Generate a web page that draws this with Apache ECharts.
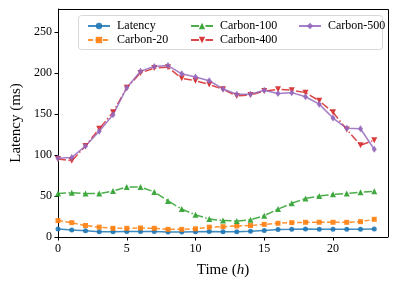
<!DOCTYPE html>
<html>
<head>
<meta charset="utf-8">
<script src="https://cdn.jsdelivr.net/npm/echarts@6/dist/echarts.min.js"></script>
<style>html,body{margin:0;padding:0;background:#fff}#c{width:399px;height:288px}</style>
</head>
<body>
<div id="c"></div>
<script>
const hours = [0,1,2,3,4,5,6,7,8,9,10,11,12,13,14,15,16,17,18,19,20,21,22,23];
const latency   = [9.8,8.5,7.7,6.5,6.5,6.8,6.8,6.8,6,6,6.5,6.8,6.5,6.5,7,8,9,9.3,9.8,9.3,9.3,9.3,9.3,9.8];
const carbon20  = [20,17.5,14,12,10.6,10.6,11,10.6,9.3,9.3,10,12,12.6,13.4,14,15.4,16.7,17.5,17.9,18,18,17.9,18.7,21.6];
const carbon100 = [53,54,53,53,56,61,61,55,44,34,27,22,20,19.5,21,26,34,41,47,50,52,53,54.5,55.7];
const carbon400 = [95,93,111,132,152,182,200,206,207,193.5,190.5,186,180,172,173,178,180,179,176,166,152,131,112,118];
const carbon500 = [96,97,111,129,149,182,202,208,209,199,195,190.5,180.5,174,174,179,175,176,171,162,145,132.5,132,107];
const xTicks = [0,5,10,15,20];
const yTicks = [0,50,100,150,200,250];

const FONT = 'Liberation Serif';
function pairs(v){ return hours.map((h,i)=>[h, v[i]]); }

const defs = [
  {name:'Latency',    data:latency,   color:'#1f77b4', type:'solid', symbol:'circle', size:5},
  {name:'Carbon-20',  data:carbon20,  color:'#ff7f0e', type:[5,2.5], symbol:'rect', size:5},
  {name:'Carbon-100', data:carbon100, color:'#2ca02c', type:[8,2.5,1.5,2.5], symbol:'triangle', size:6},
  {name:'Carbon-400', data:carbon400, color:'#d62728', type:[8,2.5,1.5,2.5], symbol:'triangle', size:6, rot:180},
  {name:'Carbon-500', data:carbon500, color:'#9467bd', type:'solid', symbol:'diamond', size:[5,7]}
];

const series = defs.map(d => ({
  name: d.name,
  type: 'line',
  data: pairs(d.data),
  symbol: d.symbol,
  symbolSize: d.size,
  symbolRotate: d.rot || 0,
  showAllSymbol: true,
  clip: true,
  animation: false,
  lineStyle: {color: d.color, width: 1.5, type: d.type, opacity: 0.85},
  itemStyle: {color: d.color, opacity: 0.9},
  emphasis: {disabled: true}
}));

function legend(names, left){
  return {
    data: names, orient: 'vertical', left: left, top: 15, z: 10,
    itemWidth: 22, itemHeight: 8, itemGap: 2,
    textStyle: {fontFamily: FONT, fontSize: 12, color: '#000', padding: [0,0,0,2]},
    selectedMode: false
  };
}

const chart = echarts.init(document.getElementById('c'), null, {renderer: 'canvas'});
chart.setOption({
  animation: false,
  backgroundColor: '#fff',
  grid: {left: 58, right: 11, top: 9, bottom: 51, containLabel: false},
  graphic: [{
    type: 'rect', z: 5,
    shape: {x: 78.5, y: 15.5, width: 304, height: 34, r: 3},
    style: {fill: 'rgba(255,255,255,0.85)', stroke: '#d8d8d8', lineWidth: 1}
  },{
    type: 'polyline', z: 6, silent: true,
    shape: {points: [[58, 9.5],[388.5, 9.5],[388.5, 237]]},
    style: {stroke: '#000', lineWidth: 1, fill: null}
  }],
  legend: [
    legend(['Latency','Carbon-20'], 82),
    legend(['Carbon-100','Carbon-400'], 185),
    legend(['Carbon-500'], 293)
  ],
  xAxis: {
    type: 'value', min: 0, max: 24, interval: 5,
    name: 'Time ({i|h})', nameLocation: 'middle', nameGap: 26,
    nameTextStyle: {fontFamily: FONT, fontSize: 15, color: '#000',
      rich: {i: {fontFamily: FONT, fontSize: 15, fontStyle: 'italic', color: '#000'}}},
    axisLine: {show: true, onZero: false, lineStyle: {color: '#000', width: 1}},
    axisTick: {show: true, length: 3.5, lineStyle: {color: '#000'}, customValues: xTicks},
    axisLabel: {fontFamily: FONT, fontSize: 12, color: '#000', margin: 6, customValues: xTicks},
    splitLine: {show: false}
  },
  yAxis: {
    type: 'value', min: 0, max: 278, interval: 50,
    name: 'Latency (ms)', nameLocation: 'middle', nameGap: 33,
    nameTextStyle: {fontFamily: FONT, fontSize: 15, color: '#000'},
    axisLine: {show: true, lineStyle: {color: '#000', width: 1}},
    axisTick: {show: true, length: 3.5, lineStyle: {color: '#000'}, customValues: yTicks},
    axisLabel: {fontFamily: FONT, fontSize: 12, color: '#000', margin: 6, customValues: yTicks},
    splitLine: {show: false}
  },
  series: series
});
</script>
</body>
</html>
